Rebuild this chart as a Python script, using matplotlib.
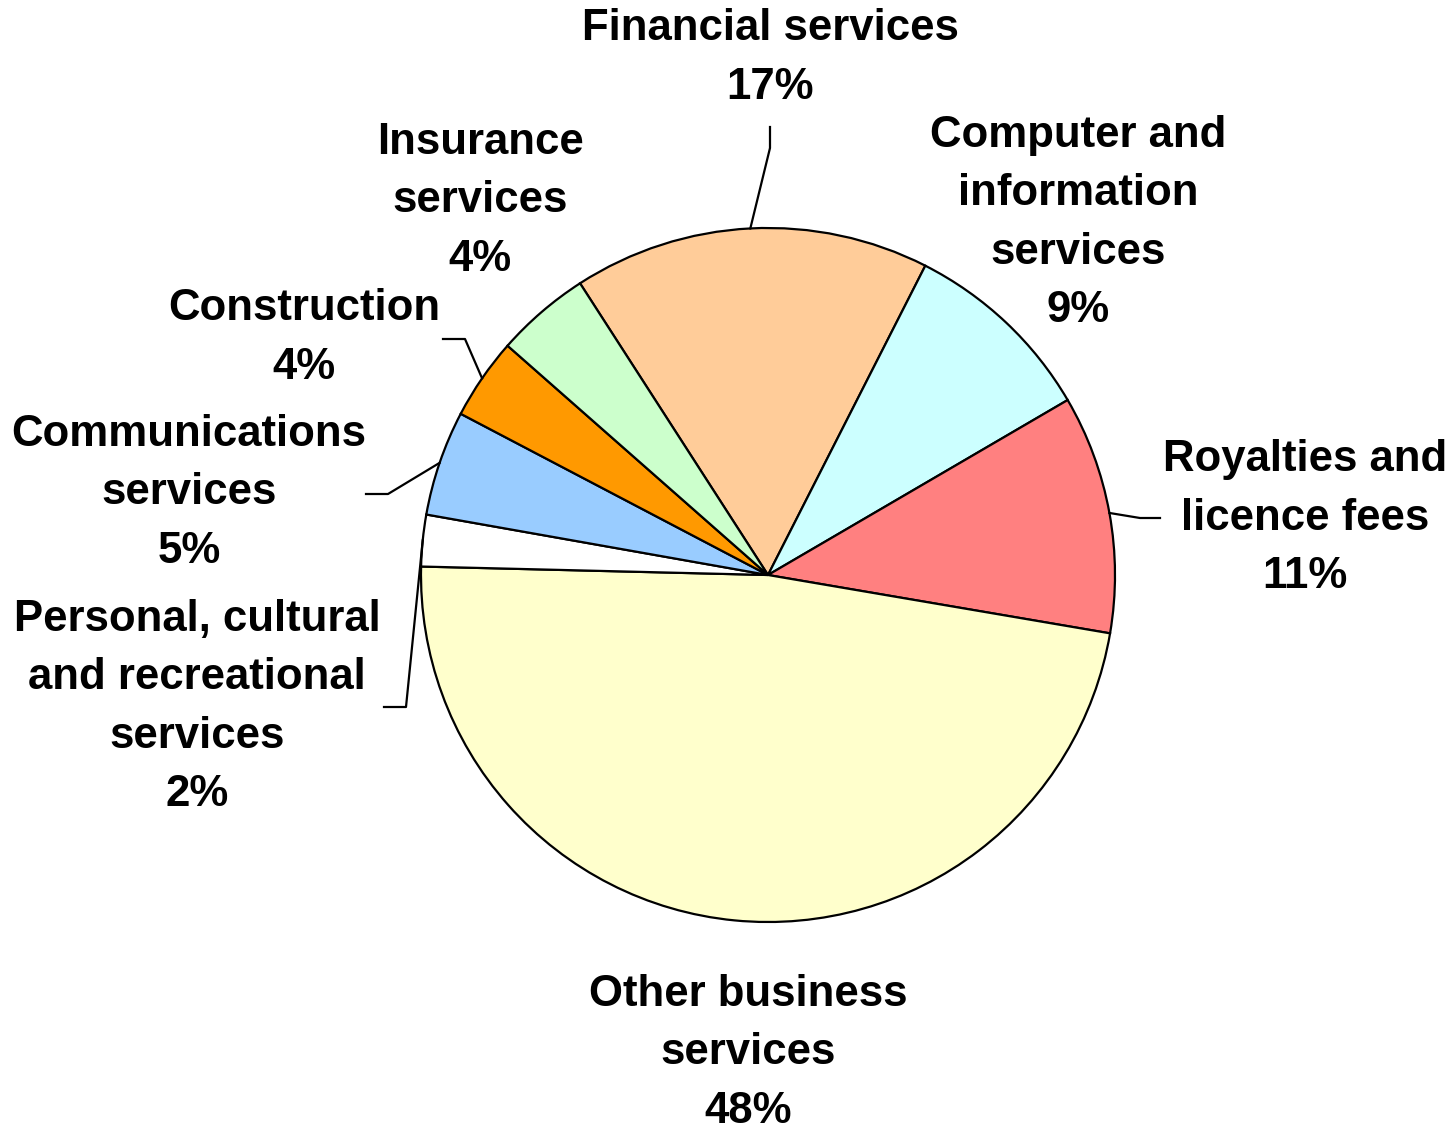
import matplotlib.pyplot as plt
import numpy as np

plt.rcParams['font.family'] = ['Liberation Sans', 'DejaVu Sans']

categories = ['Financial services', 'Computer and\ninformation\nservices',
              'Royalties and\nlicence fees', 'Other business\nservices',
              'Personal, cultural\nand recreational\nservices',
              'Communications\nservices', 'Construction', 'Insurance\nservices']
shares = [16.6, 9.1, 11.1, 47.7, 2.4, 4.9, 3.8, 4.4]
colors = ['#FFCC99', '#CCFFFF', '#FF8080', '#FFFFCC', '#FFFFFF',
          '#99CCFF', '#FF9900', '#CCFFCC']

W, H = 1454, 1131
fig = plt.figure(figsize=(W / 100, H / 100), dpi=100)
ax = fig.add_axes([0, 0, 1, 1])

cx, cy, r = 768, H - 575, 347
wedges, _ = ax.pie(shares, colors=colors, startangle=122.8, counterclock=False,
                   center=(cx, cy), radius=r, frame=True,
                   wedgeprops=dict(edgecolor='black', linewidth=1.6))
ax.set_xlim(0, W)
ax.set_ylim(0, H)
ax.set_aspect('equal')
ax.axis('off')

# label centres (pixel coords, top-down) and optional leader elbow
label_pos = [(770, 58), (1078, 223), (1305, 518), (748, 1053),
             (197, 707), (189, 493), (304, 338), (480, 201)]
elbows = [((770, 127), (770, 148)), None, ((1160, 518), (1140, 518)), None,
          ((384, 707), (406, 707)), ((366, 494), (388, 494)),
          ((443, 339), (465, 339)), None]

for w, name, s, (lx, ly), el in zip(wedges, categories, shares, label_pos, elbows):
    ax.text(lx, H - ly, '%s\n%d%%' % (name, round(s)), ha='center', va='center',
            fontsize=31.5, fontweight='bold', linespacing=1.55)
    if el is not None:
        mid = np.deg2rad((w.theta1 + w.theta2) / 2)
        px, py = cx + r * np.cos(mid), cy + r * np.sin(mid)
        (x0, y0), (x1, y1) = el
        ax.plot([x0, x1, px], [H - y0, H - y1, py], color='black', lw=1.6)

fig.savefig('out.png', dpi=100)
